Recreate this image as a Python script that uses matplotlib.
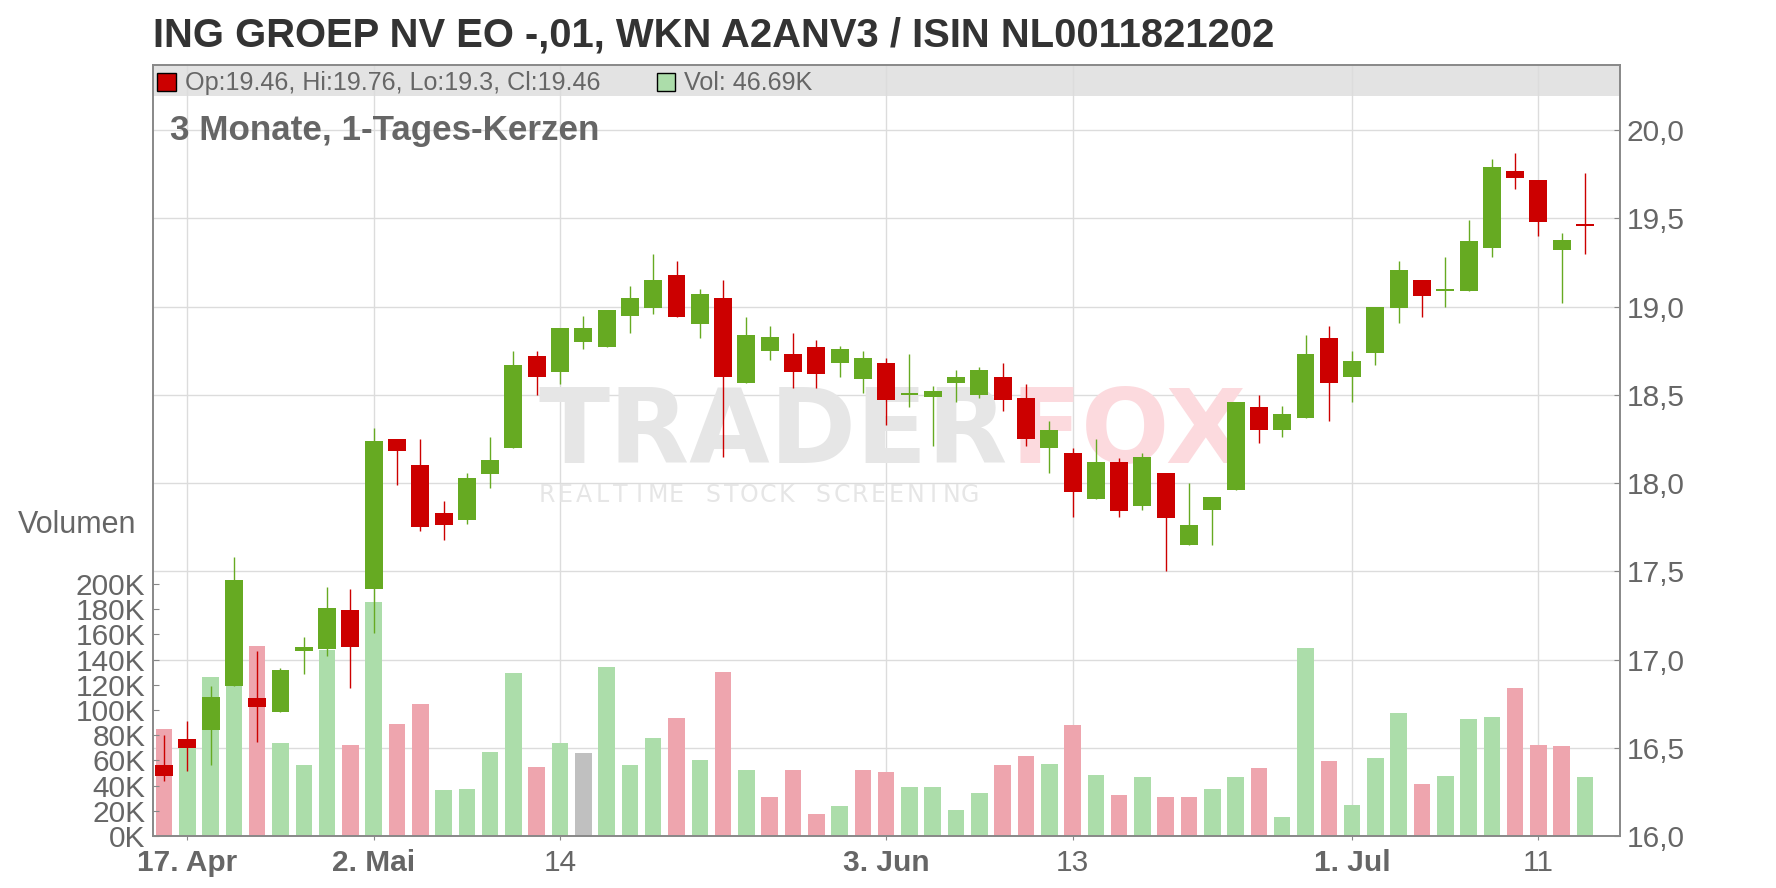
import matplotlib
matplotlib.use("Agg")
import matplotlib.pyplot as plt
from matplotlib.patches import Rectangle

plt.rcParams['font.family'] = ['Liberation Sans', 'DejaVu Sans']

# Tageskerzen (Open, High, Low, Close) und Volumen in Tausend
opens = [16.40, 16.55, 16.60, 16.85, 16.78, 16.70, 17.05, 17.06, 17.28, 17.40,
         18.25, 18.10, 17.83, 17.79, 18.05, 18.20, 18.72, 18.63, 18.80, 18.77,
         18.95, 18.99, 19.18, 18.90, 19.05, 18.57, 18.75, 18.73, 18.77, 18.68,
         18.59, 18.68, 18.50, 18.49, 18.57, 18.50, 18.60, 18.48, 18.20, 18.17,
         17.91, 18.12, 17.87, 18.06, 17.65, 17.85, 17.96, 18.43, 18.30, 18.37,
         18.82, 18.60, 18.74, 18.99, 19.15, 19.09, 19.09, 19.33, 19.77, 19.72,
         19.32, 19.46]
highs = [16.57, 16.65, 16.85, 17.58, 17.05, 16.95, 17.13, 17.41, 17.40, 18.31,
         18.25, 18.25, 17.90, 18.06, 18.26, 18.75, 18.75, 18.88, 18.95, 18.98,
         19.12, 19.30, 19.26, 19.10, 19.15, 18.94, 18.89, 18.85, 18.81, 18.78,
         18.75, 18.71, 18.73, 18.55, 18.64, 18.66, 18.68, 18.56, 18.35, 18.20,
         18.25, 18.14, 18.17, 18.06, 18.00, 17.92, 18.46, 18.50, 18.44, 18.84,
         18.89, 18.75, 19.00, 19.26, 19.15, 19.28, 19.49, 19.84, 19.87, 19.72,
         19.42, 19.76]
lows = [16.31, 16.37, 16.40, 16.85, 16.53, 16.70, 16.92, 17.02, 16.84, 17.15,
        17.99, 17.73, 17.68, 17.77, 17.97, 18.20, 18.50, 18.56, 18.76, 18.77,
        18.85, 18.96, 18.94, 18.82, 18.15, 18.57, 18.70, 18.54, 18.54, 18.60,
        18.51, 18.33, 18.43, 18.21, 18.46, 18.48, 18.41, 18.21, 18.06, 17.81,
        17.91, 17.81, 17.85, 17.50, 17.65, 17.65, 17.96, 18.23, 18.26, 18.37,
        18.35, 18.46, 18.67, 18.91, 18.94, 19.00, 19.09, 19.28, 19.67, 19.40,
        19.02, 19.30]
closes = [16.34, 16.50, 16.79, 17.45, 16.73, 16.94, 17.07, 17.29, 17.07, 18.24,
          18.18, 17.75, 17.76, 18.03, 18.13, 18.67, 18.60, 18.88, 18.88, 18.98,
          19.05, 19.15, 18.94, 19.07, 18.60, 18.84, 18.83, 18.63, 18.62, 18.76,
          18.71, 18.47, 18.51, 18.52, 18.60, 18.64, 18.47, 18.25, 18.30, 17.95,
          18.12, 17.84, 18.15, 17.80, 17.76, 17.92, 18.46, 18.30, 18.39, 18.73,
          18.57, 18.69, 19.00, 19.21, 19.06, 19.10, 19.37, 19.79, 19.73, 19.48,
          19.38, 19.46]
volumes_k = [85, 70, 126, 119, 151, 74, 56, 148, 72, 186,
             89, 105, 36.5, 37, 66.5, 129, 55, 74, 66, 134,
             56, 78, 94, 60, 130, 52, 31, 52, 17.5, 24,
             52, 51, 39, 39, 20.5, 34, 56, 63.5, 57, 88,
             48.5, 32.5, 47, 31, 31, 37.5, 47, 54, 15, 149.5,
             59.5, 25, 62, 98, 41, 48, 93, 94.5, 117.5, 72.5,
             71.5, 46.69]
# Volumenfarbe: u = hoeher als Vortag, d = tiefer, f = unveraendert
vol_trend = ['d', 'u', 'u', 'u', 'd', 'u', 'u', 'u', 'd', 'u',
             'd', 'd', 'u', 'u', 'u', 'u', 'd', 'u', 'f', 'u',
             'u', 'u', 'd', 'u', 'd', 'u', 'd', 'd', 'd', 'u',
             'd', 'd', 'u', 'u', 'u', 'u', 'd', 'd', 'u', 'd',
             'u', 'd', 'u', 'd', 'd', 'u', 'u', 'd', 'u', 'u',
             'd', 'u', 'u', 'u', 'd', 'u', 'u', 'u', 'd', 'd',
             'd', 'u']

tick_pos = [1, 9, 17, 31, 39, 51, 59]
tick_labels = ['17. Apr', '2. Mai', '14', '3. Jun', '13', '1. Jul', '11']
tick_bold = [True, True, False, True, False, True, False]
price_ticks = [16.0, 16.5, 17.0, 17.5, 18.0, 18.5, 19.0, 19.5, 20.0]
vol_ticks = [0, 20, 40, 60, 80, 100, 120, 140, 160, 180, 200]

W, H = 1776, 888
GREEN = '#66aa22'
RED = '#cc0000'
VOL_COL = {'u': '#acddaa', 'd': '#eea5ae', 'f': '#c0c0c0'}
GRID = '#dcdcdc'
TXT = '#666666'
AXC = '#888888'


def fx(px):
    return px / W


def fy(py):
    return 1 - py / H


fig = plt.figure(figsize=(W / 100, H / 100), dpi=100)
ax_vol = fig.add_axes([fx(153), fy(836), fx(1620) - fx(153), fy(65) - fy(836)])
ax_px = ax_vol.twinx()

n = len(opens)
x = list(range(n))

# Hintergrund: grauer Legendenstreifen und Gitter
ax_vol.add_patch(Rectangle((0, 1 - 31 / 771), 1, 31 / 771, transform=ax_vol.transAxes,
                           facecolor='#e3e3e3', edgecolor='none', zorder=0.3))
ax_vol.vlines(tick_pos, 0, 1, transform=ax_vol.get_xaxis_transform(),
              color=GRID, lw=1.0, zorder=0.5)
ax_vol.hlines(price_ticks, 0, 1, transform=ax_px.get_yaxis_transform(),
              color=GRID, lw=1.0, zorder=0.5)

# Wasserzeichen
ax_vol.text(fx(538), fy(463), 'TRADER', transform=fig.transFigure, family='DejaVu Sans',
            fontsize=75, fontweight='bold', color='#e6e6e6', zorder=0.6)
ax_vol.text(fx(1010), fy(463), 'FOX', transform=fig.transFigure, family='DejaVu Sans',
            fontsize=75, fontweight='bold', color='#fcdade', zorder=0.6)
sub = 'REALTIME STOCK SCREENING'
for i, ch in enumerate(sub):
    ax_vol.text(fx(547 + i * 18.4), fy(502), ch, transform=fig.transFigure, ha='center',
                family='DejaVu Sans', fontsize=17, color='#e6e6e6', zorder=0.6)

# Volumen
ax_vol.bar(x, volumes_k, width=0.71, color=[VOL_COL[t] for t in vol_trend], zorder=1)

# Kerzen
cols = [GREEN if c > o else RED for o, c in zip(opens, closes)]
ax_px.vlines(x, lows, highs, colors=cols, lw=1.0, zorder=2)
bottoms = [min(o, c) for o, c in zip(opens, closes)]
heights = [max(abs(c - o), 0.011) for o, c in zip(opens, closes)]
ax_px.bar(x, heights, bottom=bottoms, width=0.77, color=cols, zorder=3)

ax_vol.set_xlim(-0.472, 62.5)
ax_vol.set_ylim(0, 612)
ax_px.set_ylim(16.0, 20.37)

ax_vol.set_yticks(vol_ticks)
ax_vol.set_yticklabels([f'{v}K' for v in vol_ticks])
ax_px.set_yticks(price_ticks)
ax_px.set_yticklabels([f'{p:.1f}'.replace('.', ',') for p in price_ticks])
ax_vol.set_xticks(tick_pos)
ax_vol.set_xticklabels(tick_labels)
for lbl, b in zip(ax_vol.get_xticklabels(), tick_bold):
    lbl.set_fontweight('bold' if b else 'normal')

ax_vol.tick_params(axis='y', direction='in', length=4, color=AXC, labelcolor=TXT,
                   labelsize=21.5, pad=5.5)
ax_px.tick_params(axis='y', direction='in', length=4, color=AXC, labelcolor=TXT,
                  labelsize=21.5, pad=5)
ax_vol.tick_params(axis='x', direction='out', length=3, color=AXC, labelcolor=TXT,
                   labelsize=21.5, pad=6)

for a in (ax_vol, ax_px):
    for s in a.spines.values():
        s.set_color(AXC)
        s.set_linewidth(1.2)

# Texte
fig.text(fx(153), fy(46.7), 'ING GROEP NV EO -,01, WKN A2ANV3 / ISIN NL0011821202',
         fontsize=28.8, fontweight='bold', color='#333333', va='baseline')
fig.text(fx(170), fy(140), '3 Monate, 1-Tages-Kerzen', fontsize=25.2, fontweight='bold',
         color=TXT, va='baseline')
fig.text(fx(18), fy(533), 'Volumen', fontsize=22, color=TXT, va='baseline')

fig.add_artist(Rectangle((fx(157), fy(91)), fx(18.5), fy(73) - fy(91), transform=fig.transFigure,
                         facecolor=RED, edgecolor='black', lw=1))
fig.text(fx(185), fy(90), f'Op:{opens[-1]}, Hi:{highs[-1]}, Lo:{lows[-1]}, Cl:{closes[-1]}',
         fontsize=18.1, color=TXT, va='baseline')
fig.add_artist(Rectangle((fx(657), fy(91)), fx(17.5), fy(73) - fy(91), transform=fig.transFigure,
                         facecolor=VOL_COL['u'], edgecolor='black', lw=1))
fig.text(fx(684), fy(90), f'Vol: {volumes_k[-1]}K', fontsize=18.1, color=TXT, va='baseline')

fig.savefig('out.png', dpi=100)
